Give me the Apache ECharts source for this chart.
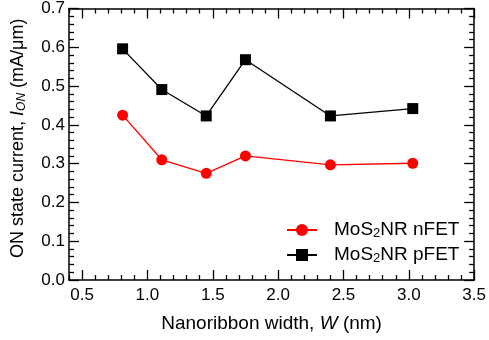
<!DOCTYPE html>
<html>
<head>
<meta charset="utf-8">
<script src="https://cdn.jsdelivr.net/npm/echarts@6/dist/echarts.min.js"></script>
<style>html,body{margin:0;padding:0;background:#fff}#c{width:489px;height:340px}</style>
</head>
<body>
<div id="c"></div>
<script>
const widths = [0.81, 1.11, 1.45, 1.75, 2.40, 3.03];
const nfet = [0.425, 0.31, 0.275, 0.32, 0.297, 0.301];
const pfet = [0.596, 0.491, 0.423, 0.568, 0.423, 0.442];
const xMajor = [0.5, 1.0, 1.5, 2.0, 2.5, 3.0, 3.5];
const xMinor = [0.4, 0.6, 0.7, 0.8, 0.9, 1.1, 1.2, 1.3, 1.4, 1.6, 1.7, 1.8, 1.9, 2.1, 2.2, 2.3, 2.4, 2.6, 2.7, 2.8, 2.9, 3.1, 3.2, 3.3, 3.4];
const seriesNames = ['MoS2NR nFET', 'MoS2NR pFET'];

const FONT = "'Liberation Sans', Arial, sans-serif";
const chart = echarts.init(document.getElementById('c'));
function xAxisDef(pos, ticks, len, labels, line) {
  return {
    type: 'value', min: 0.4, max: 3.5, position: pos,
    axisLine: {show: line, onZero: false, lineStyle: {color: '#000', width: 1.5}},
    axisTick: {show: true, inside: true, length: len, customValues: ticks, lineStyle: {color: '#000', width: 1.3}},
    axisLabel: labels ? {show: true, customValues: xMajor, formatter: v => v.toFixed(1), color: '#000', fontSize: 17, fontFamily: FONT, margin: 7} : {show: false},
    splitLine: {show: false}
  };
}
function yAxisDef(pos, labels) {
  return {
    type: 'value', min: 0, max: 0.7, interval: 0.1, position: pos,
    axisLine: {show: true, onZero: false, lineStyle: {color: '#000', width: 1.5}},
    axisTick: {show: true, inside: true, length: 10, lineStyle: {color: '#000', width: 1.3}},
    minorTick: {show: true, splitNumber: 5, length: 5, lineStyle: {color: '#000', width: 1.3}},
    axisLabel: labels ? {show: true, formatter: v => v.toFixed(1), color: '#000', fontSize: 17, fontFamily: FONT, margin: 4} : {show: false},
    splitLine: {show: false}, minorSplitLine: {show: false}
  };
}
const xAxes = [
  xAxisDef('bottom', xMajor, 10, true, true),
  xAxisDef('bottom', xMinor, 5, false, false),
  xAxisDef('top', xMajor, 10, false, true),
  xAxisDef('top', xMinor, 5, false, false)
];
xAxes[0].name = '{a|Nanoribbon width, }{i|W}{a| (nm)}';
xAxes[0].nameLocation = 'middle';
xAxes[0].nameGap = 34;
xAxes[0].nameTextStyle = {rich: {a: {fontSize: 19, fontFamily: FONT, color: '#000'}, i: {fontSize: 19, fontFamily: FONT, fontStyle: 'italic', color: '#000'}}};
const yAxes = [yAxisDef('left', true), yAxisDef('right', false)];
yAxes[0].name = '{a|ON state current, }{i|I}{s|ON}{a| (mA/μm)}';
yAxes[0].nameLocation = 'middle';
yAxes[0].nameRotate = 90;
yAxes[0].nameGap = 41;
yAxes[0].nameTextStyle = {padding: [0, 0, 0, 12], rich: {
  a: {fontSize: 18, fontFamily: FONT, color: '#000', lineHeight: 20},
  i: {fontSize: 18, fontFamily: FONT, fontStyle: 'italic', color: '#000', lineHeight: 20},
  s: {fontSize: 12, fontFamily: FONT, fontStyle: 'italic', color: '#000', lineHeight: 20, verticalAlign: 'bottom', padding: [8, 0, 0, 0]}
}};

chart.setOption({
  animation: false,
  backgroundColor: '#fff',
  grid: {left: 67, top: 7, right: 13, bottom: 60, containLabel: false},
  xAxis: xAxes,
  yAxis: yAxes,
  legend: {
    orient: 'vertical', left: 286, top: 219, padding: 0, itemWidth: 30, itemHeight: 15, itemGap: 4,
    data: seriesNames,
    formatter: name => name === seriesNames[0] ? '{a|MoS}{s|2}{a|NR nFET}' : '{a|MoS}{s|2}{a|NR pFET}',
    textStyle: {padding: [0, 0, 0, 12], rich: {
      a: {fontSize: 19, fontFamily: FONT, color: '#000', lineHeight: 20},
      s: {fontSize: 13, fontFamily: FONT, color: '#000', lineHeight: 20, verticalAlign: 'bottom', padding: [8, 0, 0, 0]}
    }}
  },
  series: [
    {name: seriesNames[0], type: 'line', xAxisIndex: 0, yAxisIndex: 0,
     data: widths.map((w, i) => [w, nfet[i]]), symbol: 'circle', symbolSize: 11,
     lineStyle: {color: '#ff0000', width: 1.3}, itemStyle: {color: '#ff0000'}},
    {name: seriesNames[1], type: 'line', xAxisIndex: 0, yAxisIndex: 0,
     data: widths.map((w, i) => [w, pfet[i]]), symbol: 'rect', symbolSize: 11,
     lineStyle: {color: '#000', width: 1.3}, itemStyle: {color: '#000'}}
  ]
});
</script>
</body>
</html>
